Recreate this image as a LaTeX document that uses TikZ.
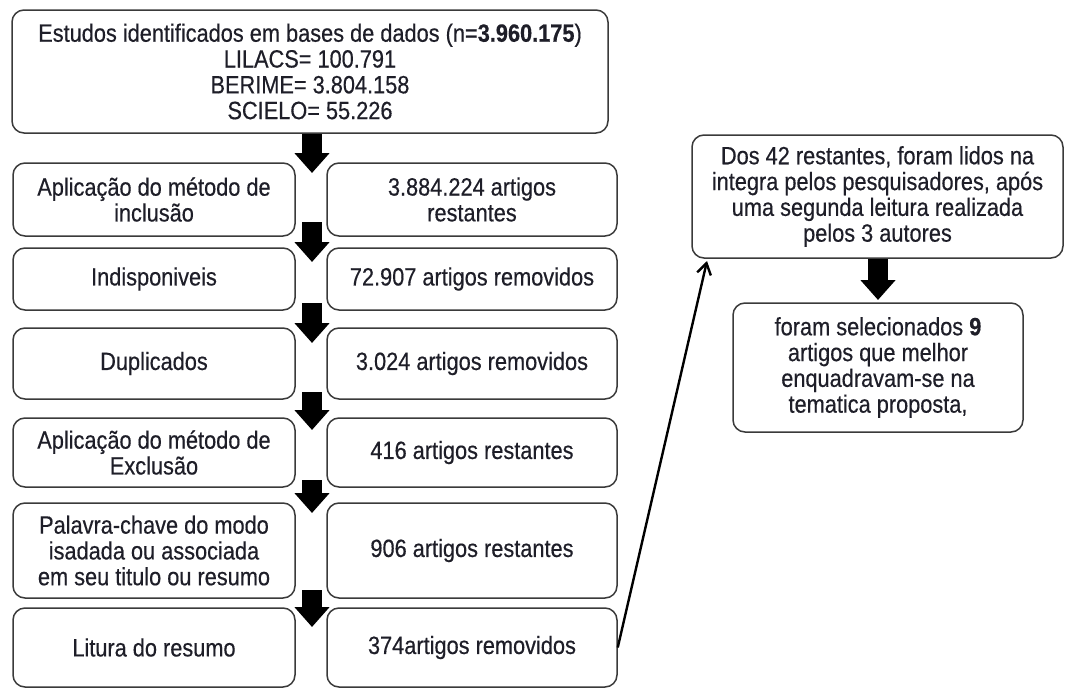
\documentclass[tikz,border=0pt]{standalone}
\usepackage{fontspec}
\setmainfont{Liberation Sans}[FakeStretch=0.87,FakeBold=0.4]
\usetikzlibrary{arrows.meta,calc}
\definecolor{boxline}{HTML}{3A3A3A}
\definecolor{txt}{HTML}{1E1E28}
\tikzset{
  box/.style={draw=boxline, line width=1.5pt, rounded corners=12pt, fill=white,
    align=center, text=txt, inner sep=0pt,
    font=\fontsize{25}{25.8}\selectfont},
  blockarrow/.style={draw=black, line width=20pt,
    -{Triangle[width=34pt,length=20pt]}},
  thinarrow/.style={draw=black, line width=2.4pt,
    -{Straight Barb[length=11pt,width=14pt,line width=2.4pt]}}
}
\begin{document}
\begin{tikzpicture}[x=1pt,y=-1pt]
\useasboundingbox (0,0) rectangle (1065,688);

% top box
\node[box, minimum width=596pt, minimum height=123pt] (top) at (310,71.5)
  {Estudos identificados em bases de dados (n=\textbf{3.960.175})\\LILACS= 100.791\\BERIME= 3.804.158\\SCIELO= 55.226};

% left column
\node[box, minimum width=282pt, minimum height=73pt] (l1) at (154,199.5) {Aplicação do método de\\inclusão};
\node[box, minimum width=282pt, minimum height=62pt] (l2) at (154,279) {Indisponiveis};
\node[box, minimum width=282pt, minimum height=71pt] (l3) at (154,363.5) {Duplicados};
\node[box, minimum width=282pt, minimum height=69pt] (l4) at (154,452.5) {Aplicação do método de\\Exclusão};
\node[box, minimum width=282pt, minimum height=95pt] (l5) at (154,550.5) {Palavra-chave do modo\\isadada ou associada\\em seu titulo ou resumo};
\node[box, minimum width=282pt, minimum height=79pt] (l6) at (154,647.5) {Litura do resumo};

% right column
\node[box, minimum width=290pt, minimum height=73pt] (r1) at (472,199.5) {3.884.224 artigos\\restantes};
\node[box, minimum width=290pt, minimum height=62pt] (r2) at (472,279) {72.907 artigos removidos};
\node[box, minimum width=290pt, minimum height=71pt] (r3) at (472,363.5) {3.024 artigos removidos};
\node[box, minimum width=290pt, minimum height=69pt] (r4) at (472,452.5) {416 artigos restantes};
\node[box, minimum width=290pt, minimum height=95pt] (r5) at (472,550.5) {906 artigos restantes};
\node[box, minimum width=290pt, minimum height=79pt] (r6) at (472,647.5) {374artigos removidos};

% right side boxes
\node[box, minimum width=371pt, minimum height=123pt] (dos) at (877.5,196.5)
  {Dos 42 restantes, foram lidos na\\integra pelos pesquisadores, após\\uma segunda leitura realizada\\pelos 3 autores};
\node[box, minimum width=290pt, minimum height=129pt] (sel) at (878,367.5)
  {foram selecionados \textbf{9}\\artigos que melhor\\enquadravam-se na\\tematica proposta,};

% block arrows
\coordinate (a0s) at (312,134);  \coordinate (a0e) at (312,173);
\coordinate (a1s) at (312,222);  \coordinate (a1e) at (312,262);
\coordinate (a2s) at (312,303);  \coordinate (a2e) at (312,343);
\coordinate (a3s) at (312,392);  \coordinate (a3e) at (312,430);
\coordinate (a4s) at (312,480);  \coordinate (a4e) at (312,513);
\coordinate (a5s) at (312,590);  \coordinate (a5e) at (312,627);
\coordinate (b0s) at (878,259);  \coordinate (b0e) at (878,300);
\draw[blockarrow] (a0s) -- (a0e);
\draw[blockarrow] (a1s) -- (a1e);
\draw[blockarrow] (a2s) -- (a2e);
\draw[blockarrow] (a3s) -- (a3e);
\draw[blockarrow] (a4s) -- (a4e);
\draw[blockarrow] (a5s) -- (a5e);
\draw[blockarrow] (b0s) -- (b0e);

% thin arrow
\coordinate (tipd) at (707,261);
\draw[thinarrow] (r6.east) -- (tipd);
\end{tikzpicture}
\end{document}
